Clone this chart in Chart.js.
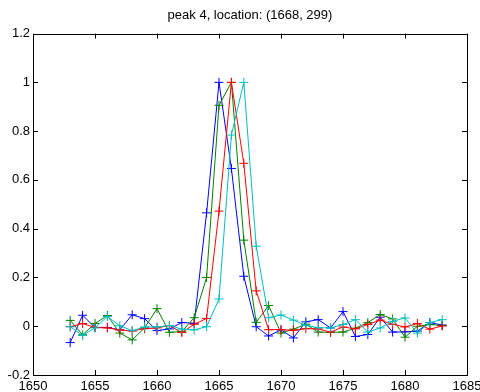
<!DOCTYPE html>
<html>
<head>
<meta charset="utf-8">
<script src="https://cdn.jsdelivr.net/npm/chart.js@4/dist/chart.umd.min.js"></script>
<style>
  body { margin: 0; background: #fff; }
  canvas { display: block; }
</style>
</head>
<body>
<canvas id="myChart" width="480" height="392"></canvas>
<script>
// x positions of the samples
var xs = [1653, 1654, 1655, 1656, 1657, 1658, 1659, 1660, 1661, 1662, 1663, 1664, 1665, 1666, 1667, 1668,
          1669, 1670, 1671, 1672, 1673, 1674, 1675, 1676, 1677, 1678, 1679, 1680, 1681, 1682, 1683];

var blueVals = [-0.067, 0.045, -0.005, -0.005, -0.015, 0.047, 0.031, -0.018, -0.011, 0.015, 0.012, 0.465, 1.0, 0.647, 0.205, -0.002,
                -0.04, -0.015, -0.048, 0.018, 0.027, -0.007, 0.06, -0.042, -0.034, 0.037, -0.024, -0.023, -0.02, 0.015, 0.005];
var greenVals = [0.024, -0.035, 0.011, 0.044, -0.028, -0.056, -0.007, 0.072, -0.025, -0.022, 0.035, 0.2, 0.906, 1.0, 0.353, 0.016,
                 0.085, -0.028, -0.012, 0.008, -0.024, -0.025, -0.024, -0.008, 0.015, 0.048, 0.03, -0.045, 0.0, 0.007, 0.003];
var redVals = [-0.002, 0.011, -0.005, -0.007, -0.015, -0.02, -0.01, -0.007, 0.003, -0.026, 0.008, 0.032, 0.472, 1.0, 0.668, 0.145,
               -0.014, -0.014, -0.017, -0.01, -0.011, -0.024, -0.003, -0.011, 0.007, 0.025, 0.008, -0.003, 0.011, -0.012, 0.001];
var cyanVals = [-0.002, -0.038, -0.007, 0.04, 0.002, -0.018, -0.003, -0.003, 0.003, -0.012, -0.015, -0.002, 0.112, 0.784, 1.0, 0.328,
                0.035, 0.046, 0.025, 0.004, -0.006, -0.007, 0.007, 0.027, -0.024, -0.007, 0.02, 0.034, -0.028, 0.015, 0.027];

var xTicks = [1650, 1655, 1660, 1665, 1670, 1675, 1680, 1685];
var yTicks = [-0.2, 0, 0.2, 0.4, 0.6, 0.8, 1, 1.2];

var titleText = 'peak 4, location: (1668, 299)';

function toPoints(vals) {
    var pts = [];
    for (var i = 0; i < xs.length; i++) {
        pts.push({x: xs[i], y: vals[i]});
    }
    return pts;
}

function makeSet(vals, color, ord) {
    return {
        data: toPoints(vals),
        borderColor: color,
        backgroundColor: color,
        borderWidth: 1,
        pointStyle: 'cross',
        pointRadius: 4.5,
        pointBorderWidth: 1,
        pointBorderColor: color,
        showLine: true,
        tension: 0,
        order: ord
    };
}

// matlab style box + inward ticks on all four sides
var boxPlugin = {
    id: 'box',
    afterDraw: function (chart) {
        var ctx = chart.ctx;
        var a = chart.chartArea;
        var xs_ = chart.scales.x;
        var ys_ = chart.scales.y;
        var len = 5;
        ctx.save();
        ctx.strokeStyle = '#000';
        ctx.lineWidth = 1;
        ctx.beginPath();
        xTicks.forEach(function (v) {
            var px = Math.round(xs_.getPixelForValue(v)) + 0.5;
            ctx.moveTo(px, a.bottom);
            ctx.lineTo(px, a.bottom - len);
            ctx.moveTo(px, a.top);
            ctx.lineTo(px, a.top + len);
        });
        yTicks.forEach(function (v) {
            var py = Math.round(ys_.getPixelForValue(v)) + 0.5;
            ctx.moveTo(a.left, py);
            ctx.lineTo(a.left + len, py);
            ctx.moveTo(a.right, py);
            ctx.lineTo(a.right - len, py);
        });
        ctx.stroke();
        ctx.strokeRect(Math.round(a.left) + 0.5, Math.round(a.top) + 0.5,
            Math.round(a.right - a.left), Math.round(a.bottom - a.top));
        ctx.restore();
    }
};

var ctx = document.getElementById('myChart').getContext('2d');
var myChart = new Chart(ctx, {
    type: 'scatter',
    data: {
        datasets: [
            makeSet(blueVals, '#0000ff', 4),
            makeSet(greenVals, '#008000', 3),
            makeSet(redVals, '#ff0000', 2),
            makeSet(cyanVals, '#00bfbf', 1)
        ]
    },
    options: {
        responsive: false,
        animation: false,
        devicePixelRatio: 1,
        layout: {padding: {left: 0, right: 13, top: 0, bottom: 0}},
        plugins: {
            legend: {display: false},
            tooltip: {enabled: false},
            title: {
                display: true,
                text: titleText,
                fullSize: false,
                color: '#000',
                font: {family: 'Liberation Sans, Arial, sans-serif', size: 13, weight: 'normal', lineHeight: 1.2},
                padding: {top: 8, bottom: 10}
            }
        },
        scales: {
            x: {
                type: 'linear',
                min: 1650,
                max: 1685,
                afterBuildTicks: function (s) { s.ticks = xTicks.map(function (v) { return {value: v}; }); },
                afterFit: function (s) {
                    s.height = 17;
                    s.paddingLeft = 0;
                    s.paddingRight = 0;
                },
                grid: {display: false, drawTicks: false},
                border: {display: false},
                ticks: {
                    color: '#000',
                    padding: 4,
                    maxRotation: 0,
                    font: {family: 'Liberation Sans, Arial, sans-serif', size: 13},
                    callback: function (v) { return String(v); }
                }
            },
            y: {
                type: 'linear',
                min: -0.2,
                max: 1.2,
                afterBuildTicks: function (s) { s.ticks = yTicks.map(function (v) { return {value: v}; }); },
                afterFit: function (s) {
                    s.width = 33;
                    s.paddingTop = 0;
                    s.paddingBottom = 0;
                },
                grid: {display: false, drawTicks: false},
                border: {display: false},
                ticks: {
                    color: '#000',
                    padding: 3,
                    font: {family: 'Liberation Sans, Arial, sans-serif', size: 13},
                    callback: function (v) { return String(Math.round(v * 10) / 10); }
                }
            }
        }
    },
    plugins: [boxPlugin]
});
</script>
</body>
</html>
